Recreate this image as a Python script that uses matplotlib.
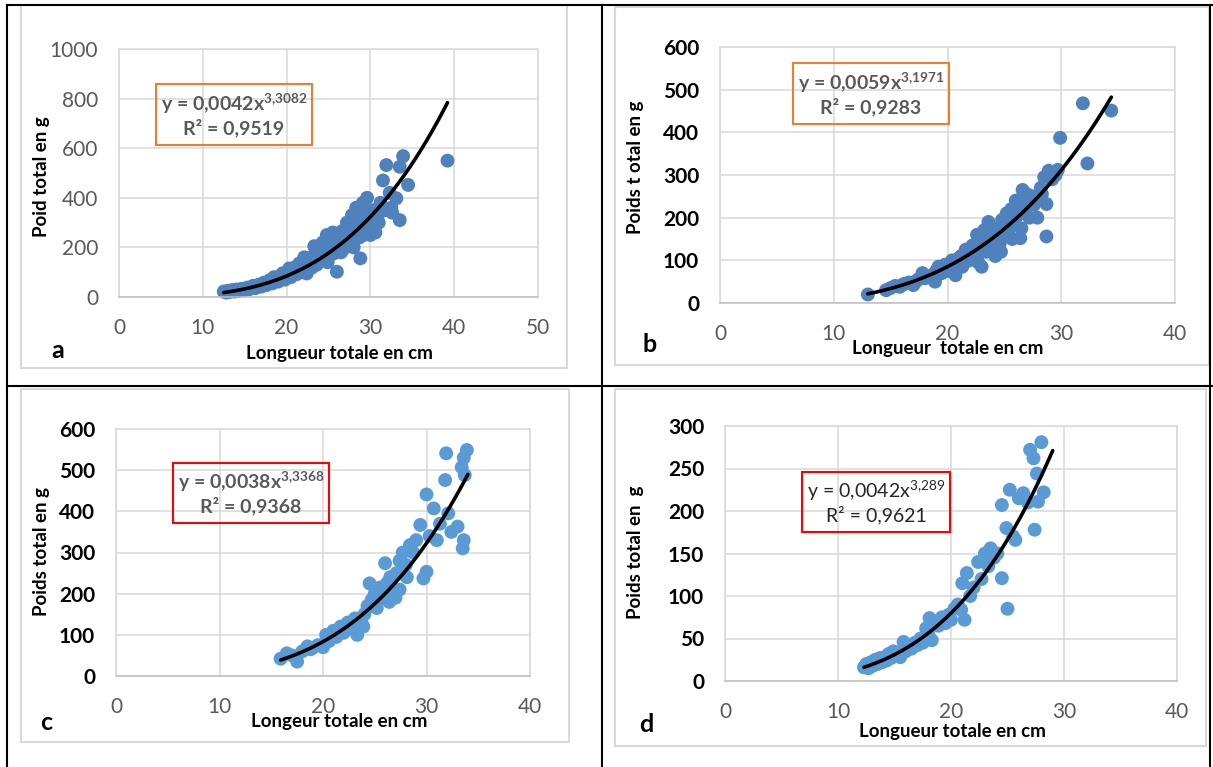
import matplotlib
matplotlib.use('Agg')
import matplotlib.pyplot as plt
from matplotlib.patches import Rectangle
from matplotlib.lines import Line2D
import numpy as np

plt.rcParams['font.family'] = ['Lato', 'DejaVu Sans']
plt.rcParams['mathtext.default'] = 'regular'

W_PX, H_PX = 1213, 767

# ---- data (length cm, weight g) ----
len_a = [12.5, 12.8, 13.0, 13.2, 13.5, 13.8, 14.0, 14.3, 14.6, 15.0, 15.3, 15.6,
         16.0, 16.3, 16.7, 17.0, 17.3, 17.6, 18.0, 18.3, 18.5, 18.7, 19.0, 19.4,
         19.5, 19.8, 20.1, 20.3, 20.5, 20.8, 21.0, 21.2, 21.5, 21.8, 22.0, 22.1,
         22.4, 22.7, 22.9, 23.0, 23.3, 23.6, 23.8, 23.9, 24.2, 24.3, 24.5, 24.8,
         25.0, 25.3, 25.5, 25.6, 25.9, 26.0, 26.3, 26.5, 26.6, 26.9, 27.0, 27.2,
         27.5, 27.6, 27.8, 28.0, 28.2, 28.3, 28.6, 28.7, 28.8, 29.1, 29.3, 29.4,
         29.6, 29.8, 29.9, 30.0, 30.2, 30.5, 30.8, 31.0, 31.2, 31.5, 31.9, 32.0,
         32.3, 32.6, 33.1, 33.5, 33.5, 33.9, 34.5, 39.2,
         19.2, 20.0, 20.7, 21.4, 22.3, 23.2, 24.0, 24.6, 25.2, 25.8, 26.2, 26.8,
         27.3, 27.9, 28.5, 29.0, 29.5, 30.0, 30.4, 31.3, 32.5, 24.9, 26.7, 28.0,
         29.2, 30.6]
wt_a = [22, 18, 25, 20, 28, 22, 30, 24, 33, 28, 38, 32,
        45, 36, 50, 42, 58, 48, 68, 55, 80, 72, 62, 85,
        95, 70, 100, 115, 80, 112, 120, 92, 135, 100, 125, 160,
        95, 140, 160, 118, 205, 130, 200, 175, 145, 220, 185, 250,
        160, 210, 260, 175, 240, 102, 200, 180, 265, 215, 270, 300,
        230, 290, 330, 260, 300, 360, 280, 240, 156, 380, 350, 310,
        400, 320, 265, 250, 350, 280, 330, 300, 380, 470, 532, 350,
        420, 340, 398, 525, 310, 568, 452, 550,
        78, 90, 95, 110, 130, 150, 170, 200, 230, 215, 250, 240,
        260, 280, 320, 300, 290, 330, 310, 345, 360, 140, 190, 200,
        250, 260]

len_b = [13.0, 14.6, 15.0, 15.4, 15.8, 16.2, 16.6, 17.0, 17.4, 17.8, 18.2, 18.6,
         18.9, 19.2, 19.5, 19.8, 20.1, 20.4, 20.5, 20.7, 21.0, 21.3, 21.5, 21.6,
         21.9, 22.0, 22.2, 22.5, 22.7, 22.8, 23.0, 23.2, 23.4, 23.5, 23.6, 23.8,
         24.0, 24.0, 24.2, 24.4, 24.5, 24.6, 24.8, 25.0, 25.2, 25.4, 25.5, 25.6,
         25.8, 26.0, 26.0, 26.2, 26.4, 26.5, 26.6, 26.8, 27.0, 27.2, 27.3, 27.6,
         27.9, 28.2, 28.5, 28.7, 28.7, 28.9, 29.2, 29.7, 29.9, 31.9, 32.3, 34.4,
         16.0, 17.2, 18.0, 19.0, 19.6, 20.2, 20.8, 21.2, 21.8, 22.3, 22.9, 23.3,
         23.9, 24.3, 24.9, 25.3, 25.9, 26.3, 26.9, 27.5, 28.0, 28.3, 29.5, 22.6,
         23.7, 24.7, 25.7]
wt_b = [20, 30, 35, 40, 38, 45, 48, 42, 55, 70, 60, 65,
        50, 85, 70, 90, 75, 100, 80, 65, 105, 85, 95, 125,
        100, 120, 135, 110, 95, 145, 85, 170, 120, 150, 190, 140,
        165, 130, 110, 175, 155, 140, 195, 160, 210, 170, 185, 220,
        190, 200, 240, 235, 152, 175, 265, 210, 255, 200, 240, 230,
        200, 270, 295, 156, 232, 310, 290, 312, 387, 468, 327, 451,
        42, 50, 58, 75, 80, 90, 95, 110, 115, 125, 130, 140,
        155, 160, 180, 190, 205, 215, 225, 250, 240, 255, 300, 160,
        175, 120, 150]

len_c = [15.9, 16.5, 17.0, 17.5, 18.0, 18.5, 18.8, 19.0, 19.5, 20.0, 20.3, 20.6,
         21.0, 21.3, 21.7, 22.0, 22.4, 22.6, 22.8, 23.1, 23.3, 23.7, 23.9, 24.0,
         24.3, 24.5, 24.7, 24.8, 25.0, 25.2, 25.5, 25.7, 26.0, 26.2, 26.4, 26.5,
         26.7, 27.0, 27.1, 27.4, 27.4, 27.7, 28.0, 28.1, 28.4, 28.7, 29.0, 29.4,
         29.7, 30.0, 30.0, 30.3, 30.7, 31.0, 31.3, 31.8, 31.9, 32.1, 32.4, 33.0,
         33.4, 33.5, 33.6, 33.6, 33.7, 33.9]
wt_c = [42, 55, 50, 35, 60, 72, 65, 68, 75, 70, 100, 85,
        110, 95, 120, 105, 130, 125, 115, 140, 100, 130, 120, 150,
        170, 225, 185, 170, 200, 165, 215, 190, 274, 226, 180, 240,
        205, 190, 250, 280, 210, 300, 270, 240, 318, 300, 330, 367,
        237, 253, 441, 340, 407, 330, 370, 476, 541, 395, 350, 363,
        507, 310, 330, 530, 488, 549]

len_d = [12.3, 12.5, 12.7, 12.9, 13.1, 13.3, 13.5, 13.7, 13.9, 14.1, 14.3, 14.5,
         14.7, 14.9, 15.1, 15.3, 15.5, 15.8, 16.0, 16.2, 16.5, 16.8, 17.0, 17.3,
         17.5, 17.8, 18.0, 18.1, 18.3, 18.6, 18.9, 19.2, 19.5, 19.8, 20.0, 20.3,
         20.6, 20.9, 21.0, 21.2, 21.4, 21.7, 22.0, 22.4, 22.7, 23.0, 23.3, 23.5,
         23.8, 24.1, 24.5, 24.5, 25.0, 24.9, 25.2, 25.5, 25.7, 26.0, 26.4, 26.8,
         27.0, 27.3, 27.4, 27.6, 27.7, 28.0, 28.2]
wt_d = [16, 20, 15, 22, 18, 25, 20, 27, 22, 28, 24, 32,
        27, 35, 30, 33, 28, 46, 35, 40, 38, 45, 42, 50,
        45, 62, 55, 74, 48, 70, 65, 75, 68, 78, 72, 85,
        90, 84, 115, 72, 127, 100, 110, 140, 120, 150, 135, 156,
        145, 150, 121, 207, 85, 180, 225, 170, 166, 215, 221, 210,
        272, 262, 178, 244, 211, 281, 222]

# power trend lines as printed in the chart: y = a * x^b
coef_a, expo_a, r2_a, span_a = 0.0042, 3.3082, '0,9519', (12.5, 39.2)
coef_b, expo_b, r2_b, span_b = 0.0059, 3.1971, '0,9283', (13.0, 34.4)
coef_c, expo_c, r2_c, span_c = 0.0038, 3.3368, '0,9368', (15.9, 34.0)
coef_d, expo_d, r2_d, span_d = 0.0042, 3.289, '0,9621', (12.3, 29.0)

xticks_a = [0, 10, 20, 30, 40, 50]
yticks_a = [0, 200, 400, 600, 800, 1000]
xticks_b = [0, 10, 20, 30, 40]
yticks_b = [0, 100, 200, 300, 400, 500, 600]
xticks_c = [0, 10, 20, 30, 40]
yticks_c = [0, 100, 200, 300, 400, 500, 600]
xticks_d = [0, 10, 20, 30, 40]
yticks_d = [0, 50, 100, 150, 200, 250, 300]

dark_blue = '#4F81BD'
light_blue = '#5B9BD5'
grey_txt = '#595959'
grid_col = '#D9D9D9'


def fx(x):
    return x / W_PX


def fy(y):
    return 1 - y / H_PX


def rect_px(x0, y0, x1, y1):
    return [fx(x0), fy(y1), (x1 - x0) / W_PX, (y1 - y0) / H_PX]


fig = plt.figure(figsize=(W_PX / 100, H_PX / 100), dpi=100)


def panel(box, lx, wy, col, xt, yt, coef, expo, span, ybold):
    ax = fig.add_axes(rect_px(*box))
    ax.set_xlim(xt[0], xt[-1])
    ax.set_ylim(yt[0], yt[-1])
    ax.set_xticks(xt)
    ax.set_yticks(yt)
    ax.grid(True, color=grid_col, lw=1.1, zorder=0)
    ax.set_axisbelow(True)
    for s in ax.spines.values():
        s.set_color(grid_col)
        s.set_linewidth(1.1)
    ax.spines['bottom'].set_color('#BFBFBF')
    ax.tick_params(length=0, pad=15)
    for t in ax.get_xticklabels():
        t.set_color(grey_txt)
        t.set_fontsize(15)
    for t in ax.get_yticklabels():
        t.set_fontsize(15)
        if ybold:
            t.set_color('black')
            t.set_fontweight('bold')
        else:
            t.set_color(grey_txt)
    ax.scatter(lx, wy, s=100, color=col, edgecolors='none', zorder=2, clip_on=False)
    xs = np.linspace(span[0], span[1], 200)
    ax.plot(xs, coef * xs ** expo, color='black', lw=2.6, zorder=3,
            solid_capstyle='round')
    return ax


panel((119, 49, 538, 297), len_a, wt_a, dark_blue, xticks_a, yticks_a,
      coef_a, expo_a, span_a, False)
panel((720, 47, 1175, 303), len_b, wt_b, dark_blue, xticks_b, yticks_b,
      coef_b, expo_b, span_b, True)
panel((116, 429, 530, 676), len_c, wt_c, light_blue, xticks_c, yticks_c,
      coef_c, expo_c, span_c, True)
panel((725, 426, 1177, 681), len_d, wt_d, light_blue, xticks_d, yticks_d,
      coef_d, expo_d, span_d, True)

# chart-area frames (light grey)
for x0, y0, x1, y1 in [(21, 5, 567, 368), (615, 7, 1209, 365),
                       (21, 389, 569, 742), (615, 389, 1206, 746)]:
    fig.add_artist(Rectangle((fx(x0), fy(y1)), (x1 - x0) / W_PX, (y1 - y0) / H_PX,
                             transform=fig.transFigure, fill=False,
                             edgecolor=grid_col, lw=1.5))

# table lines (black)
for xs, ys in [((7, 7), (5, 767)), ((602, 602), (5, 767)), ((1210, 1210), (5, 767)),
               ((7, 1213), (5, 5)), ((7, 1213), (386, 386))]:
    fig.add_artist(Line2D([fx(v) for v in xs], [fy(v) for v in ys],
                          transform=fig.transFigure, color='black', lw=1.5))

# axis titles
lab_kw = dict(fontsize=13.5, fontweight='bold', color='black', ha='center', va='center')
fig.text(fx(339), fy(353), 'Longueur totale en cm', **lab_kw)
fig.text(fx(948), fy(349), 'Longueur  totale en cm', **lab_kw)
fig.text(fx(339), fy(721), 'Longeur totale en cm', **lab_kw)
fig.text(fx(952), fy(731), 'Longueur totale en cm', **lab_kw)
fig.text(fx(41), fy(177), 'Poid total en g', rotation=90, **lab_kw)
fig.text(fx(636), fy(167), 'Poids t otal en g', rotation=90, **lab_kw)
fig.text(fx(41), fy(552), 'Poids total en g', rotation=90, **lab_kw)
fig.text(fx(636), fy(552), 'Poids total en  g', rotation=90, **lab_kw)

# panel letters
let_kw = dict(fontsize=18, fontweight='bold', color='black', ha='center', va='center')
for (x, y), s in zip([(58, 351), (650, 344), (46, 722), (646, 724)], 'abcd'):
    fig.text(fx(x), fy(y), s, **let_kw)


# equation boxes
def eq_box(box, coef_txt, expo_txt, r2_txt, edge, bold, col):
    x0, y0, x1, y1 = box
    fig.add_artist(Rectangle((fx(x0), fy(y1)), (x1 - x0) / W_PX, (y1 - y0) / H_PX,
                             transform=fig.transFigure, fill=False,
                             edgecolor=edge, lw=1.5))
    cx = (x0 + x1) / 2
    h = y1 - y0
    w = 'bold' if bold else 'normal'
    fig.text(fx(cx), fy(y0 + h * 0.32), 'y = %sx$^{%s}$' % (coef_txt, expo_txt.replace(',', '{,}')),
             fontsize=14, fontweight=w, color=col, ha='center', va='center')
    fig.text(fx(cx), fy(y0 + h * 0.72), 'R² = ' + r2_txt,
             fontsize=14, fontweight=w, color=col, ha='center', va='center')


eq_box((156, 84, 312, 145), '0,0042', '3,3082', r2_a, '#ED7D31', True, grey_txt)
eq_box((793, 63, 949, 124), '0,0059', '3,1971', r2_b, '#ED7D31', True, grey_txt)
eq_box((173, 463, 329, 523), '0,0038', '3,3368', r2_c, '#FF0000', True, grey_txt)
eq_box((802, 472, 950, 532), '0,0042', '3,289', r2_d, '#FF0000', False, '#262626')

fig.savefig('out.png', dpi=100)
